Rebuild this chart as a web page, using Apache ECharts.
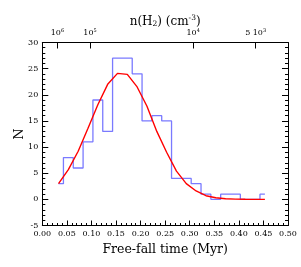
<!DOCTYPE html>
<html>
<head>
<meta charset="utf-8">
<script src="https://cdn.jsdelivr.net/npm/echarts@6/dist/echarts.min.js"></script>
<style>html,body{margin:0;padding:0;background:#fff}#c{width:301px;height:267px}</style>
</head>
<body>
<div id="c"></div>
<script>
// Histogram bin centers (Myr)
var binCenters = [0.033,0.053,0.073,0.093,0.113,0.133,0.153,0.173,0.193,0.213,0.233,0.253,0.273,0.293,0.313,0.333,0.353,0.373,0.393,0.413,0.433,0.453];
// Histogram counts N
var histCounts = [3,8,6,11,19,13,27,27,24,15,16,15,4,4,3,1,0,1,1,0,0,1];
// Fitted curve (read at bin centers)
var fitValues = [3.0,5.7,9.2,13.6,18.1,22.0,24.1,23.9,21.5,17.8,13.0,9.0,5.4,3.0,1.6,0.7,0.3,0.12,0.05,0.02,0.0,0.0];
// Top axis: density ticks and labels
var topDensities = [1e6,1e5,1e4,5e3];
var topLabels = ['10{s|6}','10{s|5}','10{s|4}','5 10{s|3}'];
var tffConst = 30.7; // t_ff (Myr) = tffConst / sqrt(n)
var topTickPos = topDensities.map(function(n){return tffConst/Math.sqrt(n);});

var serif = 'DejaVu Serif';
var chart = echarts.init(document.getElementById('c'), null, {renderer:'canvas'});
var labelStyle = {fontFamily: serif, fontSize: 8, color:'#000'};
chart.setOption({
  animation:false,
  backgroundColor:'#fff',
  grid:{left:42.3, right:13, top:42.5, bottom:41.5, containLabel:false, outerBoundsMode:'none'},
  xAxis:[{
    type:'value', position:'bottom', min:0, max:0.5, interval:0.05,
    axisLine:{show:true, onZero:false, lineStyle:{color:'#000', width:1}},
    axisTick:{show:true, inside:true, length:5, lineStyle:{color:'#000'}},
    minorTick:{show:true, splitNumber:5, length:2.5, lineStyle:{color:'#000'}},
    splitLine:{show:false},
    axisLabel:Object.assign({margin:4, formatter:function(v){return v.toFixed(2);}}, labelStyle),
    name:'Free-fall time (Myr)', nameLocation:'middle', nameGap:18, nameMoveOverlap:false,
    nameTextStyle:{fontFamily:serif, fontSize:12.5, color:'#000'}
  },{
    type:'value', position:'top', min:0, max:0.5,
    axisLine:{show:true, onZero:false, lineStyle:{color:'#000', width:1}},
    axisTick:{show:true, inside:true, length:6, customValues:topTickPos, lineStyle:{color:'#000'}},
    splitLine:{show:false},
    axisLabel:Object.assign({margin:5, customValues:topTickPos,
      formatter:function(v){
        var best=0, bd=1e9;
        for(var i=0;i<topTickPos.length;i++){var d=Math.abs(topTickPos[i]-v); if(d<bd){bd=d;best=i;}}
        return topLabels[best];
      },
      rich:{s:{fontFamily:serif, fontSize:5, verticalAlign:'top', padding:[0,0,4,0], color:'#000'}}
    }, labelStyle),
    name:'n(H{b|2}) (cm{p|-3})', nameLocation:'middle', nameGap:21, nameMoveOverlap:false,
    nameTextStyle:{fontFamily:serif, fontSize:12, color:'#000', verticalAlign:'middle',
      rich:{b:{fontFamily:serif, fontSize:7.5, padding:[6,0,0,0], color:'#000'},
            p:{fontFamily:serif, fontSize:7.5, padding:[0,0,6,0], color:'#000'}}}
  }],
  yAxis:[{
    type:'value', position:'left', min:-5, max:30, interval:5,
    axisLine:{show:true, onZero:false, lineStyle:{color:'#000', width:1}},
    axisTick:{show:true, inside:true, length:6, lineStyle:{color:'#000'}},
    minorTick:{show:true, splitNumber:5, length:3, lineStyle:{color:'#000'}},
    splitLine:{show:false},
    axisLabel:Object.assign({margin:4}, labelStyle),
    name:'N', nameLocation:'middle', nameGap:16, nameRotate:90, nameMoveOverlap:false,
    nameTextStyle:{fontFamily:serif, fontSize:13, color:'#000'}
  },{
    type:'value', position:'right', min:-5, max:30, interval:5,
    axisLine:{show:true, onZero:false, lineStyle:{color:'#000', width:1}},
    axisTick:{show:true, inside:true, length:6, lineStyle:{color:'#000'}},
    minorTick:{show:true, splitNumber:5, length:3, lineStyle:{color:'#000'}},
    splitLine:{show:false},
    axisLabel:{show:false}
  }],
  series:[{
    type:'line', xAxisIndex:0, yAxisIndex:0, step:'middle', symbol:'none',
    data: binCenters.map(function(x,i){return [x, histCounts[i]];}),
    lineStyle:{color:'#7a7aff', width:1.3}, z:2
  },{
    type:'line', xAxisIndex:0, yAxisIndex:0, symbol:'none', smooth:false,
    data: binCenters.map(function(x,i){return [x, fitValues[i]];}),
    lineStyle:{color:'#ff0000', width:1.4}, z:3
  }]
});
</script>
</body>
</html>
